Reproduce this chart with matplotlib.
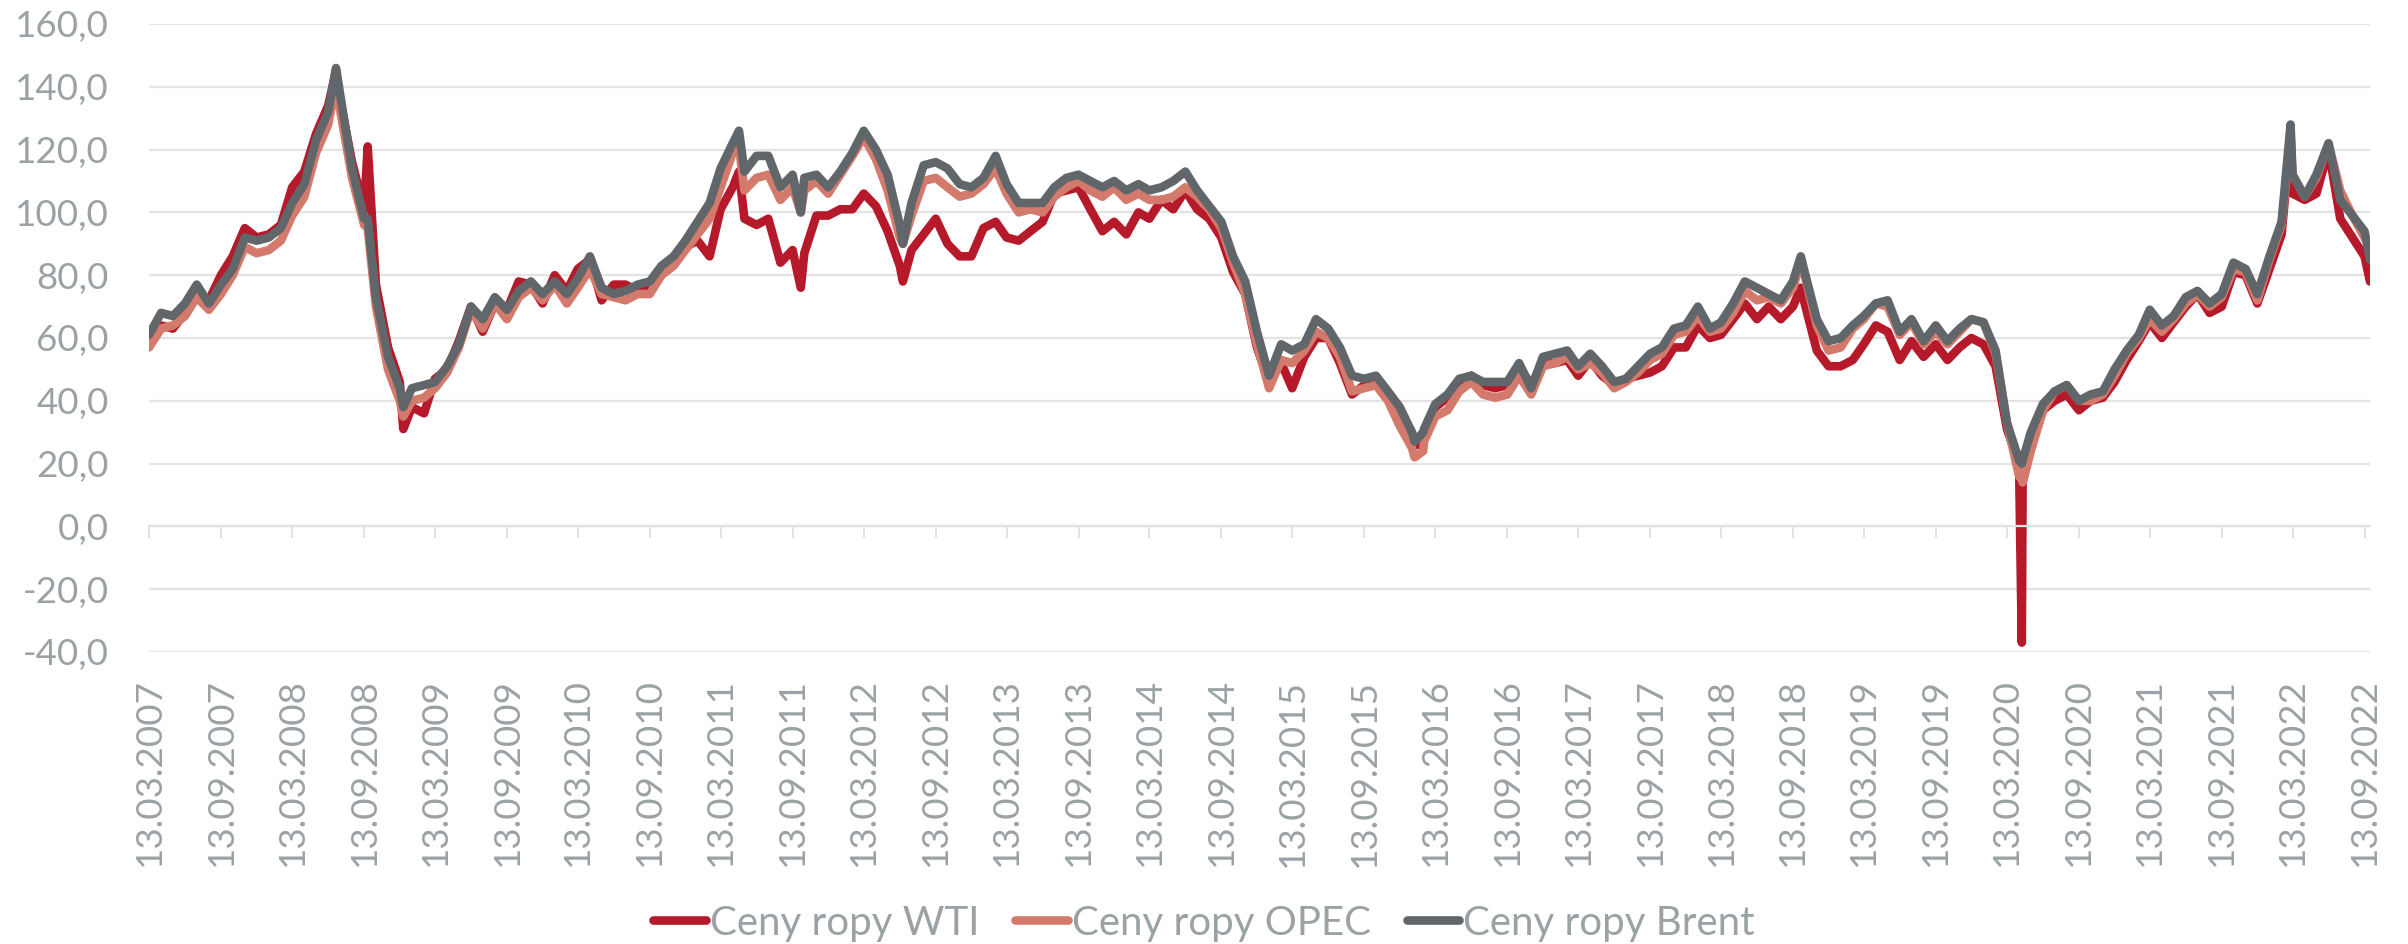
import numpy as np
import pandas as pd
import matplotlib
matplotlib.use('Agg')
import matplotlib.pyplot as plt
import matplotlib.dates as mdates
from matplotlib.ticker import FuncFormatter

plt.rcParams['font.family'] = ['Lato', 'DejaVu Sans']

#Monthly values (13th of each month, 03/2007 - 09/2022)
wti_m = [58, 64, 63, 68, 74, 72, 80, 86, 95, 92,
         93, 96, 108, 113, 125, 134, 136, 116, 101, 77, 57, 46,
         38, 36, 47, 50, 59, 70, 62, 71, 69, 78, 77, 71,
         80, 75, 82, 85, 72, 77, 77, 75, 77, 82, 85, 89,
         91, 86, 101, 108, 98, 96, 98, 84, 88, 87, 99, 99,
         101, 101, 106, 102, 94, 83, 88, 93, 98, 90, 86, 86,
         95, 97, 92, 91, 94, 97, 106, 107, 108, 101, 94, 97,
         93, 100, 98, 104, 101, 107, 101, 98, 92, 81, 74, 57,
         46, 52, 44, 54, 60, 60, 52, 42, 45, 47, 41, 35,
         30, 29, 38, 41, 46, 48, 45, 44, 45, 51, 45, 52,
         52, 53, 48, 53, 48, 45, 47, 48, 49, 51, 57, 57,
         64, 60, 61, 66, 71, 66, 70, 66, 70, 71, 56, 51,
         51, 53, 58, 64, 62, 53, 59, 54, 58, 53, 57, 60,
         58, 51, 31, 20, 25, 37, 40, 42, 37, 40, 41, 46,
         53, 59, 65, 60, 65, 70, 74, 68, 70, 81, 80, 71,
         82, 93, 106, 104, 106, 120, 98, 92, 86]
opec_m = [57, 63, 64, 67, 73, 69, 74, 80, 89, 87,
          88, 91, 99, 105, 119, 128, 133, 111, 96, 70, 50, 40,
          40, 41, 44, 49, 57, 69, 63, 71, 66, 73, 76, 72,
          77, 71, 76, 82, 74, 73, 72, 74, 74, 80, 83, 88,
          93, 98, 108, 119, 107, 111, 112, 104, 108, 107, 110, 106,
          112, 118, 124, 117, 107, 92, 99, 110, 111, 108, 105, 106,
          109, 114, 106, 100, 101, 100, 105, 108, 110, 107, 105, 108,
          104, 106, 104, 104, 105, 108, 105, 101, 95, 84, 74, 58,
          44, 53, 52, 56, 62, 60, 54, 43, 44, 45, 40, 32,
          25, 27, 35, 37, 43, 46, 42, 41, 42, 48, 42, 51,
          52, 54, 50, 52, 49, 44, 46, 49, 53, 55, 61, 62,
          67, 62, 63, 68, 75, 72, 73, 71, 76, 80, 64, 56,
          57, 63, 66, 71, 70, 61, 65, 58, 62, 58, 62, 66,
          65, 55, 33, 16, 24, 37, 43, 45, 40, 40, 42, 48,
          55, 60, 66, 62, 66, 71, 74, 70, 73, 82, 81, 72,
          85, 96, 112, 105, 111, 122, 107, 99, 92]
brent_m = [61, 68, 67, 71, 77, 71, 77, 82, 92, 91,
           92, 95, 103, 109, 123, 132, 138, 114, 98, 73, 54, 44,
           44, 45, 46, 51, 58, 70, 66, 73, 69, 75, 78, 74,
           78, 74, 79, 86, 76, 74, 75, 77, 78, 83, 86, 91,
           97, 103, 114, 122, 113, 118, 118, 108, 112, 111, 112, 108,
           113, 119, 126, 120, 112, 96, 103, 115, 116, 114, 109, 108,
           111, 118, 109, 103, 103, 103, 108, 111, 112, 110, 108, 110,
           107, 109, 107, 108, 110, 113, 107, 102, 97, 86, 78, 62,
           48, 58, 56, 58, 66, 63, 57, 48, 47, 48, 43, 38,
           30, 31, 39, 42, 47, 48, 46, 46, 46, 52, 44, 54,
           55, 56, 51, 55, 51, 46, 47, 51, 55, 57, 63, 64,
           70, 63, 65, 71, 78, 76, 74, 72, 78, 81, 66, 59,
           60, 64, 67, 71, 72, 62, 66, 59, 64, 59, 63, 66,
           65, 56, 33, 21, 30, 39, 43, 45, 40, 42, 43, 50,
           56, 61, 69, 64, 67, 73, 75, 71, 74, 84, 82, 74,
           86, 97, 112, 105, 112, 122, 104, 99, 94]

#Daily extremes between the monthly points
extra_dates = ['2008-07-03', '2008-09-22', '2008-12-22', '2011-04-29', '2011-10-04',
               '2012-06-21', '2016-01-20', '2016-02-11', '2018-10-03', '2020-04-20',
               '2020-04-22', '2022-03-08', '2022-09-27']
wti_x = [145, 121, 31, 113, 76, 78, 26, 26, 76, -37, 14, 124, 78]
opec_x = [141, 95, 35, 121, 100, 90, 22, 24, 84, 15, 14, 124, 89]
brent_x = [146, 98, 38, 126, 100, 90, 27, 30, 86, 20, 21, 128, 85]

labels = ['Ceny ropy WTI', 'Ceny ropy OPEC', 'Ceny ropy Brent']
colors = ['#b5192a', '#d47a6c', '#606669']
grid_c = '#e3e3e3'
text_c = '#9ba2a5'

months = pd.date_range('2007-03-13', periods=len(wti_m), freq=pd.DateOffset(months=1))
df = pd.concat([
    pd.DataFrame({'wti': wti_m, 'opec': opec_m, 'brent': brent_m}, index=months),
    pd.DataFrame({'wti': wti_x, 'opec': opec_x, 'brent': brent_x}, index=pd.to_datetime(extra_dates)),
]).sort_index()
x = mdates.date2num(df.index)

fig = plt.figure(figsize=(24.08, 9.44), dpi=100)
ax = fig.add_axes([149 / 2408, 1 - 652 / 944, (2370 - 149) / 2408, (652 - 24) / 944])

for col, lab, c in zip(['wti', 'opec', 'brent'], labels, colors):
    ax.plot(x, df[col].values, color=c, lw=6.2, label=lab,
            solid_capstyle='round', solid_joinstyle='round')

ax.set_ylim(-40, 160)
ax.set_yticks(np.arange(-40, 161, 20))
ax.yaxis.set_major_formatter(FuncFormatter(lambda v, p: f'{v:.1f}'.replace('.', ',')))
ax.tick_params(axis='y', length=0, pad=29, labelsize=26.5, labelcolor=text_c)
ax.yaxis.grid(True, color=grid_c, lw=1.6)
ax.set_axisbelow(True)

tick_dates = pd.date_range('2007-03-13', '2022-09-13', freq=pd.DateOffset(months=6))
tick_x = mdates.date2num(tick_dates)
ax.set_xlim(mdates.date2num(pd.Timestamp('2007-03-13')), mdates.date2num(pd.Timestamp('2022-09-27')))
ax.set_xticks(tick_x)
ax.tick_params(axis='x', length=8.6, width=1.4, color=grid_c, direction='out', labelbottom=False)

for s in ['top', 'right', 'left']:
    ax.spines[s].set_visible(False)
ax.spines['bottom'].set_position(('data', 0))
ax.spines['bottom'].set_color(grid_c)
ax.spines['bottom'].set_linewidth(1.6)

sec = ax.secondary_xaxis(0)
sec.set_xticks(tick_x, labels=[d.strftime('%d.%m.%Y') for d in tick_dates])
sec.tick_params(length=0, pad=19, labelsize=26.5, labelcolor=text_c, labelrotation=90)
sec.spines['bottom'].set_visible(False)

fig.legend(loc='center', bbox_to_anchor=(0.5, 1 - 923 / 944), ncol=3, frameon=False,
           fontsize=29, handlelength=1.3, handletextpad=0.1, columnspacing=0.9,
           labelcolor=text_c)

fig.savefig('out.png', dpi=100)
